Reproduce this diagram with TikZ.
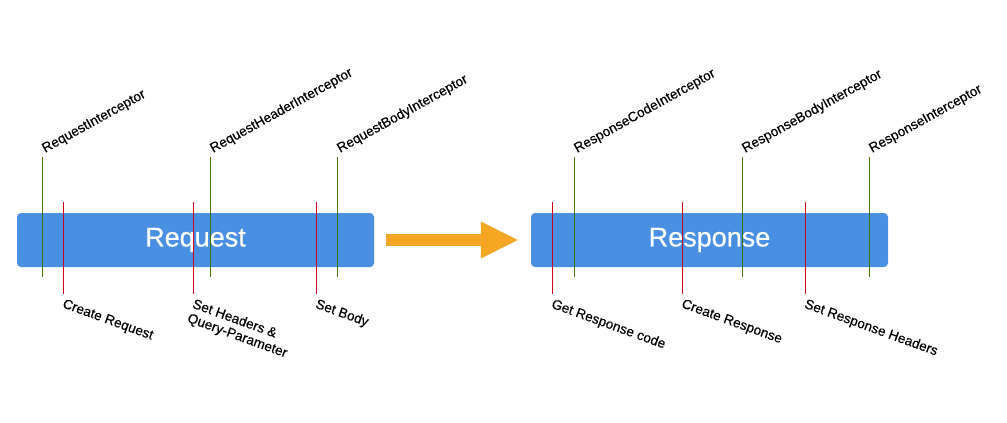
\documentclass[tikz,border=0pt]{standalone}
\usepackage{fontspec}
\setmainfont{Liberation Sans}
\newfontfamily\labelfont[FakeBold=0.4]{Liberation Sans}
\usetikzlibrary{arrows.meta}
\definecolor{boxblue}{HTML}{4A90E2}
\definecolor{arrorange}{HTML}{F5A623}
\definecolor{icgreen}{HTML}{417505}
\definecolor{stred}{HTML}{D0021B}
\begin{document}
\begin{tikzpicture}[x=1pt,y=-1pt,
  phasebox/.style={draw=none,fill=boxblue,rounded corners=4pt,minimum width=357pt,minimum height=54pt,
    text=white,font=\labelfont\fontsize{27}{32}\selectfont,inner sep=0pt},
  icline/.style={draw=icgreen,line width=1pt},
  stline/.style={draw=stred,line width=1pt},
  toplabel/.style={anchor=base west,rotate=29,inner sep=0pt,font=\labelfont\fontsize{13.6}{15}\selectfont},
  botlabel/.style={anchor=north west,rotate=-20,inner sep=0pt,align=left,font=\labelfont\fontsize{13.6}{15}\selectfont}]
\useasboundingbox (0,0) rectangle (1007,423);
% boxes
\node[phasebox] (req) at (195.5,240) {Request};
\node[phasebox] (resp) at (709.5,240) {Response};
% arrow
\draw[arrorange,line width=12pt,-{Triangle[width=34pt,length=38pt]}]
  ([xshift=12pt]req.east) -- ([xshift=-12pt]resp.west);
% interceptor (green) lines
\foreach \x/\name/\txt in {42/ri/RequestInterceptor,210/rhi/RequestHeaderInterceptor,337/rbi/RequestBodyInterceptor,
  574/rci/ResponseCodeInterceptor,742/rbo/ResponseBodyInterceptor,869/rsi/ResponseInterceptor}{
  \coordinate (\name-t) at (\x,157);
  \coordinate (\name-b) at (\x,277);
  \draw[icline] (\name-t) -- (\name-b);
  \node[toplabel] (\name-l) at ([xshift=3pt,yshift=4pt]\name-t) {\txt};
}
% step (red) lines
\foreach \x/\name/\txt in {63/cr/Create Request,193/sh/{Set Headers \&\\Query-Parameter},316/sb/Set Body,
  552/gc/Get Response code,682/crs/Create Response,805/srh/Set Response Headers}{
  \coordinate (\name-t) at (\x,202);
  \coordinate (\name-b) at (\x,294);
  \draw[stline] (\name-t) -- (\name-b);
  \node[botlabel] (\name-l) at ([xshift=2pt,yshift=-4pt]\name-b) {\txt};
}
\end{tikzpicture}
\end{document}
